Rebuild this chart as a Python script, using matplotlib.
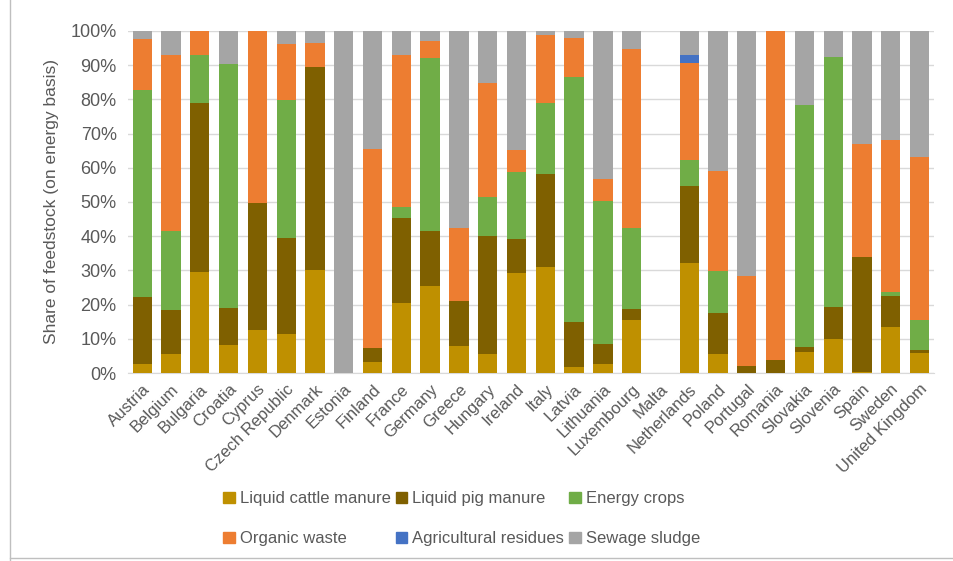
import numpy as np
import matplotlib
matplotlib.use("Agg")
import matplotlib.pyplot as plt
from matplotlib.patches import Patch
from matplotlib.lines import Line2D
from matplotlib.ticker import PercentFormatter

countries = ["Austria", "Belgium", "Bulgaria", "Croatia", "Cyprus", "Czech Republic",
             "Denmark", "Estonia", "Finland", "France", "Germany", "Greece", "Hungary",
             "Ireland", "Italy", "Latvia", "Lithuania", "Luxembourg", "Malta",
             "Netherlands", "Poland", "Portugal", "Romania", "Slovakia", "Slovenia",
             "Spain", "Sweden", "United Kingdom"]

# shares in %
cattle = [2.6, 5.6, 29.6, 8.1, 12.5, 11.4, 30.1, 0, 3.2, 20.4, 25.5, 7.9, 5.6, 29.3,
          30.9, 1.8, 2.6, 15.5, 0, 32.1, 5.6, 0, 0, 6.1, 9.9, 0.3, 13.4, 5.8]
pig = [19.5, 12.8, 49.4, 10.9, 37.3, 28.1, 59.4, 0, 4.1, 25.0, 16.1, 13.1, 34.5, 9.9,
       27.3, 13.1, 5.9, 3.2, 0, 22.6, 11.9, 2.0, 3.7, 1.4, 9.3, 33.6, 9.1, 0.9]
energy = [60.7, 23.1, 14.0, 71.4, 0, 40.4, 0, 0, 0, 3.1, 50.6, 0, 11.3, 19.6,
          20.7, 71.6, 41.7, 23.7, 0, 7.7, 12.3, 0.2, 0, 70.8, 73.2, 0, 1.2, 8.8]
organic = [14.7, 51.3, 7.0, 0, 50.2, 16.4, 7.0, 0, 58.2, 44.5, 4.7, 21.4, 33.4, 6.5,
           19.9, 11.5, 6.5, 52.3, 0, 28.2, 29.2, 26.2, 96.3, 0, 0, 33.1, 44.5, 47.6]
agri = [0, 0, 0, 0, 0, 0, 0, 0, 0, 0, 0, 0, 0, 0,
        0, 0, 0, 0, 0, 2.2, 0, 0, 0, 0, 0, 0, 0, 0]
sewage = [2.5, 7.2, 0, 9.6, 0, 3.7, 3.5, 100, 34.5, 7.0, 3.1, 57.6, 15.2, 34.7,
          1.2, 2.0, 43.3, 5.3, 0, 7.2, 41.0, 71.6, 0, 21.7, 7.6, 33.0, 31.8, 36.9]

series = [
    ("Liquid cattle manure", cattle, "#BF9000"),
    ("Liquid pig manure", pig, "#7F6000"),
    ("Energy crops", energy, "#70AD47"),
    ("Organic waste", organic, "#ED7D31"),
    ("Agricultural residues", agri, "#4472C4"),
    ("Sewage sludge", sewage, "#A5A5A5"),
]

plt.rcParams["font.family"] = ["Liberation Sans", "DejaVu Sans"]

fig = plt.figure(figsize=(9.54, 5.61), dpi=100)
ax = fig.add_axes([0.134, 0.335, 0.845, 0.61])

x = np.arange(len(countries))
bottom = np.zeros(len(countries))
for name, vals, col in series:
    v = np.array(vals, dtype=float)
    ax.bar(x, v, 0.67, bottom=bottom, color=col, label=name, zorder=3)
    bottom += v

ax.set_xlim(-0.5, len(countries) - 0.5)
ax.set_ylim(0, 100)
ax.set_yticks(np.arange(0, 101, 10))
ax.yaxis.set_major_formatter(PercentFormatter(decimals=0))
ax.grid(axis="y", color="#D9D9D9", linewidth=1, zorder=0)
for s in ["top", "right", "left"]:
    ax.spines[s].set_visible(False)
ax.spines["bottom"].set_color("#D9D9D9")
ax.tick_params(axis="y", length=0, colors="#595959", labelsize=13, pad=8)
ax.tick_params(axis="x", length=0, colors="#595959", labelsize=12, pad=6)
ax.set_xticks(x)
ax.set_xticklabels(countries, rotation=45, ha="right", rotation_mode="anchor")
ax.set_ylabel("Share of feedstock (on energy basis)", fontsize=12.5, color="#595959", labelpad=8)

h = [Patch(color=c) for _, _, c in series]
n = [s[0] for s in series]
order = [0, 3, 1, 4, 2, 5]
fig.legend([h[i] for i in order], [n[i] for i in order], ncol=3, frameon=False,
           loc="center left", bbox_to_anchor=(0.218, 0.075), fontsize=12,
           handlelength=0.7, handleheight=0.7, handletextpad=0.3,
           columnspacing=0.3, labelspacing=1.5, labelcolor="#595959")

# partial outer frame like the original export
fig.add_artist(Line2D([0.011, 0.011], [0.0, 1.0], color="#BFBFBF", linewidth=1))
fig.add_artist(Line2D([0.011, 1.0], [0.006, 0.006], color="#BFBFBF", linewidth=1))

fig.savefig("out.png", dpi=100)
